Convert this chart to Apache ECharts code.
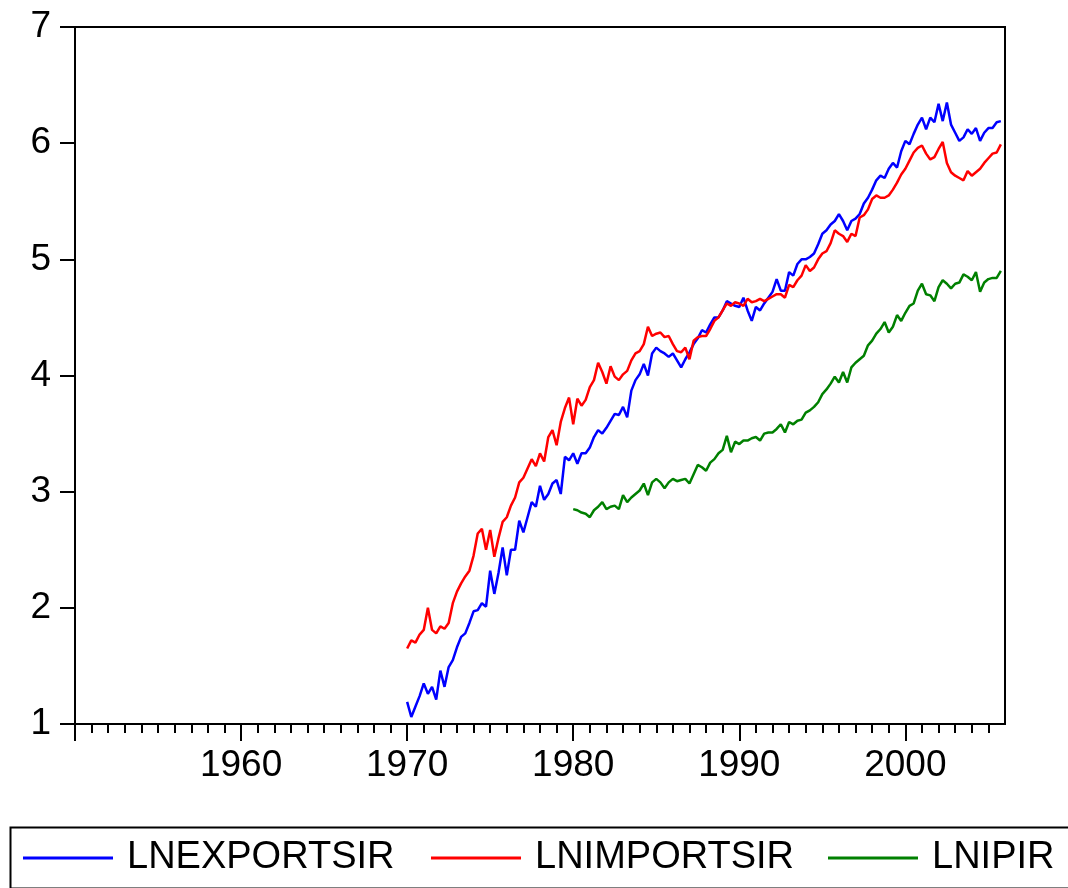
<!DOCTYPE html>
<html>
<head>
<meta charset="utf-8">
<title>LNEXPORTSIR, LNIMPORTSIR, LNIPIR</title>
<script src="https://cdn.jsdelivr.net/npm/echarts@6/dist/echarts.min.js"></script>
<style>
  html, body { margin: 0; padding: 0; background: #ffffff; }
  #chart { width: 1068px; height: 888px; }
</style>
</head>
<body>
<div id="chart"></div>
<script>
// Quarterly observations (log levels), one row per year: Q1, Q2, Q3, Q4
const exportsStart = 1970;
const lnExportsIr = [
  1.19, 1.06, 1.15, 1.24,
  1.35, 1.26, 1.32, 1.21,
  1.46, 1.32, 1.49, 1.55,
  1.66, 1.75, 1.78, 1.87,
  1.97, 1.98, 2.04, 2.01,
  2.32, 2.12, 2.30, 2.52,
  2.28, 2.50, 2.50, 2.75,
  2.65, 2.78, 2.91, 2.87,
  3.05, 2.93, 2.98, 3.07,
  3.10, 2.98, 3.30, 3.27,
  3.33, 3.24, 3.33, 3.33,
  3.38, 3.47, 3.53, 3.50,
  3.55, 3.61, 3.67, 3.66,
  3.73, 3.64, 3.87, 3.96,
  4.01, 4.10, 4.00, 4.19,
  4.24, 4.21, 4.19, 4.16,
  4.19, 4.13, 4.07, 4.14,
  4.20, 4.27, 4.32, 4.39,
  4.37, 4.44, 4.50, 4.50,
  4.56, 4.64, 4.62, 4.60,
  4.59, 4.67, 4.56, 4.47,
  4.59, 4.56, 4.62, 4.67,
  4.72, 4.83, 4.73, 4.73,
  4.89, 4.86, 4.96, 5.00,
  5.00, 5.02, 5.05, 5.13,
  5.22, 5.25, 5.30, 5.33,
  5.39, 5.33, 5.25, 5.33,
  5.35, 5.39, 5.48, 5.53,
  5.60, 5.68, 5.72, 5.70,
  5.78, 5.83, 5.79, 5.93,
  6.02, 5.99, 6.08, 6.16,
  6.22, 6.12, 6.22, 6.18,
  6.34, 6.19, 6.35, 6.16,
  6.09, 6.02, 6.05, 6.12,
  6.08, 6.13, 6.02, 6.09,
  6.13, 6.13, 6.18, 6.19
];

const importsStart = 1970;
const lnImportsIr = [
  1.65, 1.72, 1.70, 1.77,
  1.81, 2.00, 1.81, 1.78,
  1.84, 1.82, 1.87, 2.04,
  2.14, 2.21, 2.27, 2.32,
  2.45, 2.64, 2.68, 2.50,
  2.67, 2.44, 2.60, 2.74,
  2.78, 2.88, 2.95, 3.08,
  3.12, 3.20, 3.28, 3.22,
  3.33, 3.26, 3.47, 3.53,
  3.40, 3.60, 3.72, 3.81,
  3.58, 3.80, 3.74, 3.79,
  3.90, 3.96, 4.11, 4.03,
  3.93, 4.08, 3.99, 3.96,
  4.01, 4.04, 4.13, 4.19,
  4.21, 4.27, 4.42, 4.34,
  4.36, 4.37, 4.33, 4.34,
  4.27, 4.21, 4.20, 4.24,
  4.14, 4.30, 4.33, 4.34,
  4.34, 4.40, 4.47, 4.50,
  4.56, 4.62, 4.60, 4.63,
  4.62, 4.60, 4.66, 4.63,
  4.64, 4.66, 4.64, 4.66,
  4.68, 4.70, 4.70, 4.67,
  4.78, 4.76, 4.82, 4.86,
  4.95, 4.90, 4.93, 5.00,
  5.05, 5.07, 5.14, 5.25,
  5.22, 5.20, 5.15, 5.22,
  5.20, 5.36, 5.38, 5.43,
  5.52, 5.55, 5.53, 5.53,
  5.55, 5.60, 5.66, 5.73,
  5.78, 5.85, 5.92, 5.96,
  5.98, 5.91, 5.86, 5.88,
  5.95, 6.01, 5.83, 5.75,
  5.72, 5.70, 5.68, 5.76,
  5.72, 5.75, 5.78, 5.83,
  5.87, 5.91, 5.92, 5.99
];

const ipStart = 1980;
const lnIpIr = [
  2.85, 2.84, 2.82, 2.81,
  2.78, 2.84, 2.87, 2.91,
  2.85, 2.87, 2.88, 2.85,
  2.97, 2.91, 2.95, 2.98,
  3.01, 3.07, 2.97, 3.08,
  3.11, 3.08, 3.03, 3.08,
  3.11, 3.09, 3.10, 3.11,
  3.07, 3.15, 3.23, 3.21,
  3.18, 3.25, 3.28, 3.33,
  3.36, 3.48, 3.34, 3.43,
  3.41, 3.44, 3.44, 3.46,
  3.47, 3.44, 3.50, 3.51,
  3.51, 3.54, 3.58, 3.51,
  3.60, 3.58, 3.61, 3.62,
  3.68, 3.70, 3.73, 3.77,
  3.84, 3.88, 3.93, 3.99,
  3.94, 4.03, 3.94, 4.07,
  4.11, 4.14, 4.17, 4.26,
  4.30, 4.36, 4.40, 4.46,
  4.37, 4.42, 4.52, 4.47,
  4.54, 4.60, 4.62, 4.73,
  4.79, 4.70, 4.69, 4.64,
  4.76, 4.82, 4.79, 4.75,
  4.79, 4.80, 4.87, 4.85,
  4.82, 4.89, 4.72, 4.80,
  4.83, 4.84, 4.84, 4.90
];

const seriesNames = ['LNEXPORTSIR', 'LNIMPORTSIR', 'LNIPIR'];
const seriesColors = ['#0000ff', '#ff0000', '#008000'];

const yearMin = 1950;
const yearMax = 2006;
const decadeLabels = [1960, 1970, 1980, 1990, 2000];
const yValueTicks = [1, 2, 3, 4, 5, 6, 7];

const periodsPerYear = 4;

function toPoints(start, values) {
  return values.map((v, i) => [start + i / periodsPerYear, v]);
}

const yearTicks = [];
for (let y = yearMin; y < yearMax; y++) yearTicks.push(y);
const decadeTicks = [yearMin].concat(decadeLabels);

const FONT = '"Liberation Sans", Arial, Helvetica, sans-serif';

const chart = echarts.init(document.getElementById('chart'), null, { renderer: 'canvas' });

const lineSeries = (name, color, points) => ({
  name: name,
  type: 'line',
  data: points,
  showSymbol: false,
  symbol: 'none',
  lineStyle: { color: color, width: 2.5 },
  itemStyle: { color: color },
  emphasis: { disabled: true },
  animation: false
});

const legendAt = (name, left) => ({
  data: [name],
  left: left,
  top: 839,
  padding: 0,
  icon: 'rect',
  itemWidth: 90,
  itemHeight: 3,
  selectedMode: false,
  textStyle: {
    fontFamily: FONT,
    fontSize: 38,
    color: '#000',
    padding: [0, 0, 0, 9]
  }
});

chart.setOption({
  backgroundColor: '#ffffff',
  animation: false,
  grid: {
    left: 75,
    right: 63,
    top: 27,
    bottom: 164,
    show: true,
    borderColor: '#000',
    borderWidth: 2,
    backgroundColor: 'transparent'
  },
  xAxis: [
    {
      type: 'value',
      min: yearMin,
      max: yearMax,
      interval: 1,
      position: 'bottom',
      axisLine: { show: true, onZero: false, lineStyle: { color: '#000', width: 2 } },
      axisTick: {
        show: true,
        length: 9,
        lineStyle: { color: '#000', width: 2 },
        customValues: yearTicks
      },
      axisLabel: {
        show: true,
        margin: 23,
        fontFamily: FONT,
        fontSize: 37,
        color: '#000',
        customValues: decadeLabels,
        formatter: (v) => String(v)
      },
      splitLine: { show: false }
    },
    {
      type: 'value',
      min: yearMin,
      max: yearMax,
      interval: 10,
      position: 'bottom',
      axisLine: { show: false, onZero: false },
      axisTick: {
        show: true,
        length: 17,
        lineStyle: { color: '#000', width: 2 },
        customValues: decadeTicks
      },
      axisLabel: { show: false },
      splitLine: { show: false }
    }
  ],
  yAxis: {
    type: 'value',
    min: 1,
    max: 7,
    interval: 1,
    axisLine: { show: true, onZero: false, lineStyle: { color: '#000', width: 2 } },
    axisTick: {
      show: true,
      length: 15,
      lineStyle: { color: '#000', width: 2 },
      customValues: yValueTicks
    },
    axisLabel: {
      margin: 24,
      fontFamily: FONT,
      fontSize: 37,
      color: '#000',
      padding: [0, 0, 12, 0],
      customValues: yValueTicks
    },
    splitLine: { show: false }
  },
  legend: [
    legendAt(seriesNames[0], 23),
    legendAt(seriesNames[1], 431),
    legendAt(seriesNames[2], 828)
  ],
  graphic: [
    {
      type: 'rect',
      left: 8,
      top: 825,
      shape: { width: 1080, height: 61 },
      style: { fill: 'none', stroke: '#000', lineWidth: 2 },
      silent: true
    }
  ],
  series: [
    lineSeries(seriesNames[0], seriesColors[0], toPoints(exportsStart, lnExportsIr)),
    lineSeries(seriesNames[1], seriesColors[1], toPoints(importsStart, lnImportsIr)),
    lineSeries(seriesNames[2], seriesColors[2], toPoints(ipStart, lnIpIr))
  ]
});
</script>
</body>
</html>
